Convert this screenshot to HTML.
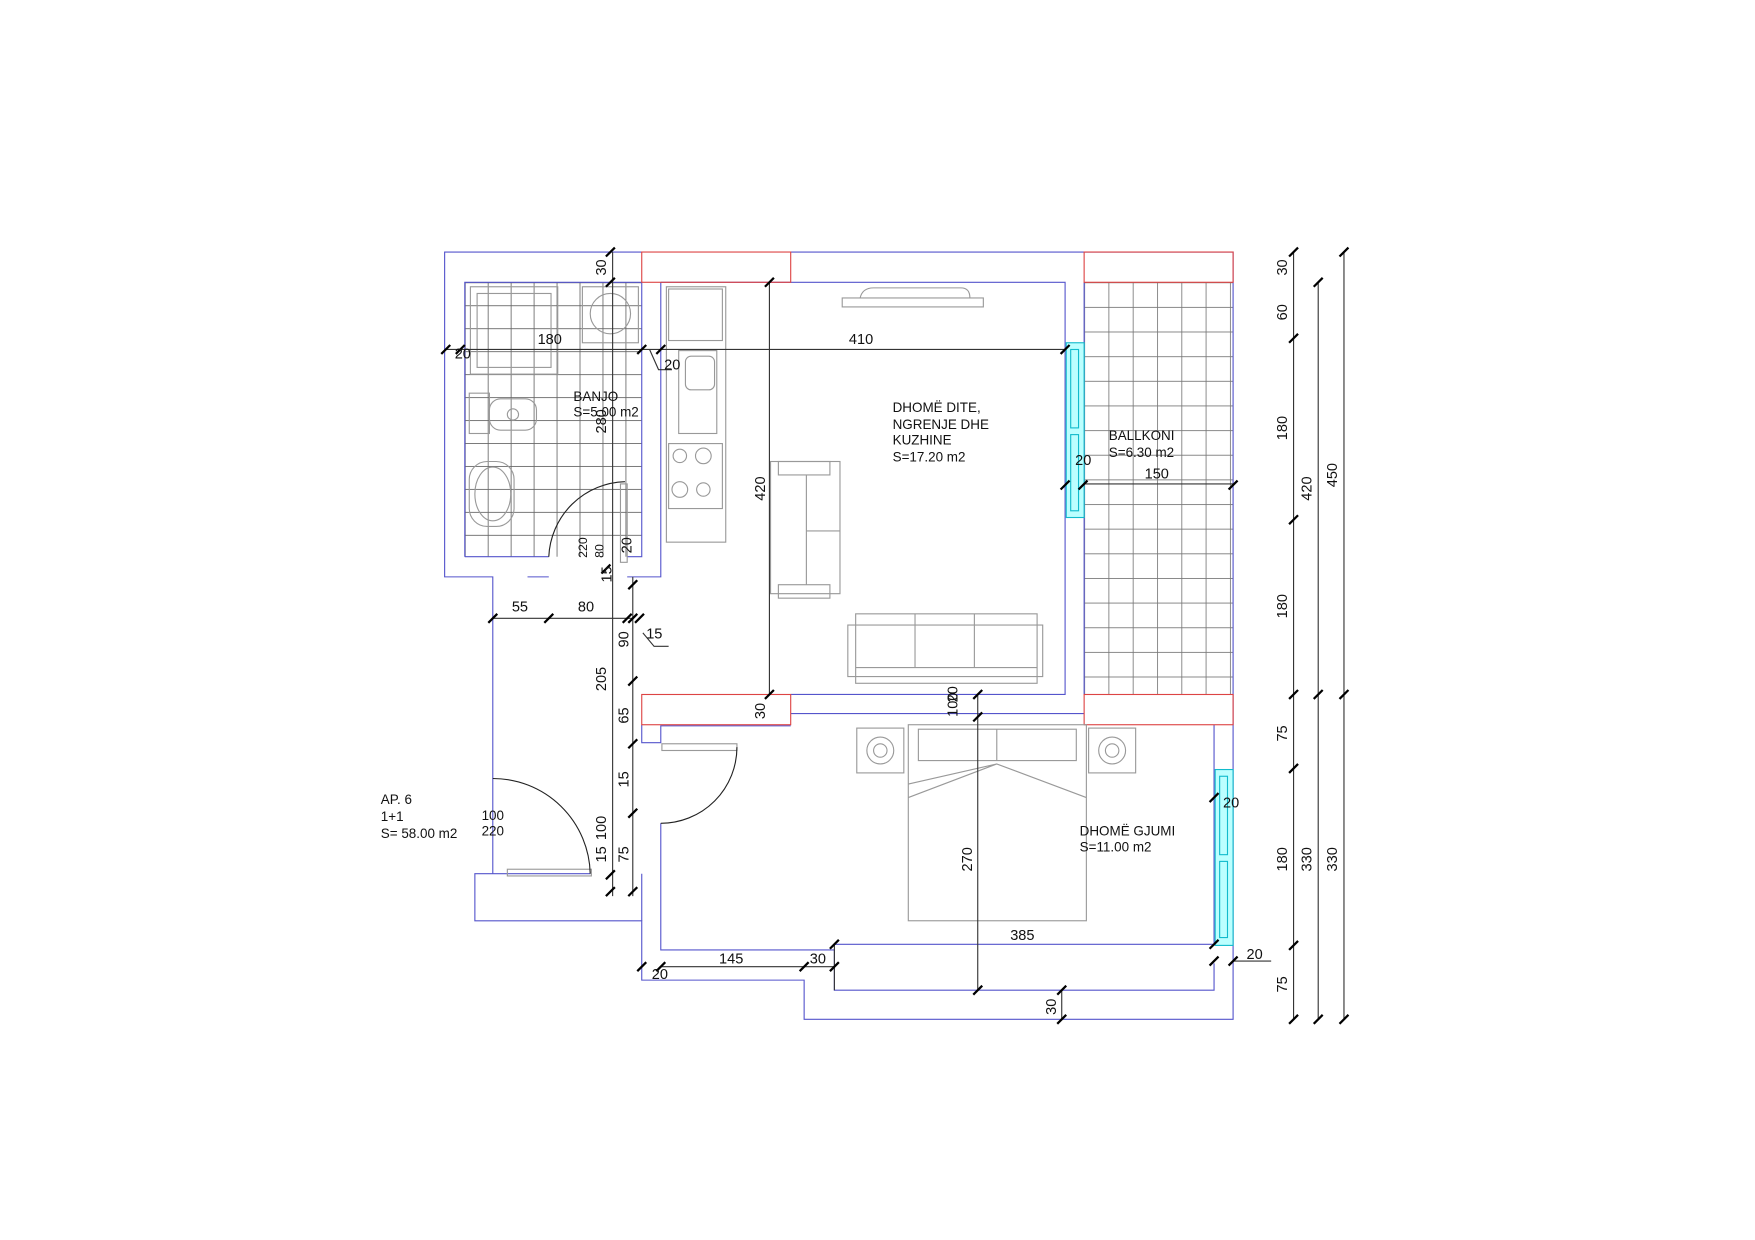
<!DOCTYPE html>
<html><head><meta charset="utf-8"><style>html,body{margin:0;padding:0;background:#fff}svg{display:block}text{font-family:"Liberation Sans",sans-serif;fill:#111}</style></head>
<body>
<svg width="1755" height="1240" viewBox="0 0 1567 1107" preserveAspectRatio="none" xmlns="http://www.w3.org/2000/svg">
<defs>
<pattern id="tb" x="415" y="252" width="20.5" height="20.5" patternUnits="userSpaceOnUse"><path d="M0 0H20.5M0 0V20.5" stroke="#666" stroke-width="1.5" fill="none"/></pattern>
<pattern id="tk" x="968" y="252" width="21.7" height="22" patternUnits="userSpaceOnUse"><path d="M0 0H21.7M0 0V22" stroke="#777" stroke-width="1.5" fill="none"/></pattern>
</defs>
<rect x="415" y="252" width="158" height="245" fill="url(#tb)"/>
<rect x="968" y="252" width="133" height="368" fill="url(#tk)"/>
<g fill="none" stroke="#55c" stroke-width="1">
<path d="M573 225H397V515H440V695M527 780H424V822H573V875H718V910H1101V225H968"/>
<path d="M706 225H968"/>
<path d="M415 497V252H573V497H560M490 497H415"/>
<path d="M590 252V515H560M490 515H471V515"/>
<path d="M590 252H951V620H706"/>
<path d="M968 252V620"/>
<path d="M706 637H968"/>
<path d="M573 647V663H590V648H706M590 735V848H745M745 843H1084V647M745 848V884H1084V860"/>
<path d="M440 695V780M573 780V822"/>
</g>
<g fill="none" stroke="#d44" stroke-width="1">
<rect x="573" y="225" width="133" height="27"/>
<rect x="968" y="225" width="133" height="27"/>
<rect x="968" y="620" width="133" height="27"/>
<rect x="573" y="620" width="133" height="27"/>
</g>
<g fill="#bff" stroke="#1bc" stroke-width="1">
<rect x="952" y="306" width="16" height="156"/><rect x="956" y="312" width="7" height="70"/><rect x="956" y="388" width="7" height="68"/>
<rect x="1085" y="687" width="16" height="157"/><rect x="1089" y="693" width="7" height="70"/><rect x="1089" y="769" width="7" height="68"/>
</g>
<g fill="none" stroke="#999" stroke-width="1">
<rect x="420" y="256" width="78" height="78"/><rect x="426" y="262" width="66" height="66"/>
<rect x="520" y="256" width="50" height="50"/><circle cx="545" cy="280" r="18"/>
<rect x="419" y="351" width="18" height="36"/><rect x="437" y="356" width="42" height="28" rx="10"/><circle cx="458" cy="370" r="5"/>
<rect x="419" y="412" width="40" height="58" rx="16"/><ellipse cx="440" cy="441" rx="16" ry="24"/>
<rect x="595" y="256" width="53" height="228"/><rect x="597" y="258" width="48" height="46"/>
<rect x="606" y="313" width="34" height="74"/><rect x="612" y="318" width="26" height="30" rx="5"/>
<rect x="597" y="396" width="48" height="58"/><circle cx="607" cy="407" r="6"/><circle cx="628" cy="407" r="7"/><circle cx="607" cy="437" r="7"/><circle cx="628" cy="437" r="6"/>
<rect x="752" y="266" width="126" height="8"/><path d="M768 266Q770 257 780 257H858Q866 257 866 266"/>
<rect x="688" y="412" width="62" height="118"/><rect x="695" y="412" width="46" height="12"/><rect x="695" y="522" width="46" height="12"/><path d="M720 424V522M720 474H750"/>
<rect x="757" y="558" width="174" height="46"/><rect x="764" y="548" width="162" height="62"/><path d="M817 548V596M870 548V596M764 596H926"/>
<rect x="765" y="650" width="42" height="40"/><circle cx="786" cy="670" r="12"/><circle cx="786" cy="670" r="6"/>
<rect x="972" y="650" width="42" height="40"/><circle cx="993" cy="670" r="12"/><circle cx="993" cy="670" r="6"/>
<rect x="811" y="647" width="159" height="175"/><rect x="820" y="651" width="141" height="28"/><path d="M890 651V679M811 700L890 682L970 712M811 712L890 682"/>
<rect x="453" y="776" width="75" height="6"/><rect x="591" y="664" width="67" height="6"/><rect x="554" y="432" width="6" height="70"/>
</g>
<g fill="none" stroke="#222" stroke-width="1">
<path d="M440 695A87 87 0 0 1 527 780"/>
<path d="M590 735A68 68 0 0 0 658 667"/>
<path d="M490 497A70 70 0 0 1 558 430"/>
</g>
<g fill="none" stroke="#333" stroke-width="1">
<path d="M397 312H951M969 432H1101M440 552H565M547 225V800M565 515V800M574 565L584 577H597M580 312L588 330H600"/>
<path d="M687 252V620M873 620V884M590 863H745M745 843V884M1101 858H1135M1155 225V910M1177 252V910M1200 225V910M948 884V910"/>
</g>
<g stroke="#000" stroke-width="2">
<path d="M394 316l8-8M407 316l8-8M569 316l8-8M586 316l8-8M947 316l8-8M947 437l8-8M963 437l8-8M1097 437l8-8"/>
<path d="M541 229l8-8M541 256l8-8M436 556l8-8M486 556l8-8M556 556l8-8M567 556l8-8M537 512l8-8M561 526l8-8M561 556l8-8M561 612l8-8M561 668l8-8M561 730l8-8M541 800l8-8M561 800l8-8M541 785l8-8"/>
<path d="M683 256l8-8M683 624l8-8M869 624l8-8M869 644l8-8M869 888l8-8M944 888l8-8M944 914l8-8M569 867l8-8M586 867l8-8M714 867l8-8M741 867l8-8M741 847l8-8M1080 847l8-8M1080 862l8-8M1097 862l8-8M1080 716l8-8"/>
<path d="M1151 229l8-8M1151 306l8-8M1151 468l8-8M1151 624l8-8M1151 690l8-8M1151 848l8-8M1151 914l8-8M1173 256l8-8M1173 624l8-8M1173 914l8-8M1196 229l8-8M1196 624l8-8M1196 914l8-8"/>
</g>
<g font-size="13">
<text x="480" y="307">180</text><text x="406" y="320">20</text><text x="593" y="330">20</text><text x="758" y="307">410</text>
<text x="512" y="358" font-size="12">BANJO</text><text x="512" y="372" font-size="12">S=5.00 m2</text>
<text x="797" y="368" font-size="12">DHOMË DITE,</text><text x="797" y="383" font-size="12">NGRENJE DHE</text><text x="797" y="397" font-size="12">KUZHINE</text><text x="797" y="412" font-size="12">S=17.20 m2</text>
<text x="990" y="393" font-size="12">BALLKONI</text><text x="990" y="408" font-size="12">S=6.30 m2</text>
<text x="960" y="415">20</text><text x="1022" y="427">150</text>
<text x="457" y="546">55</text><text x="516" y="546">80</text><text x="577" y="570">15</text>
<text x="964" y="746" font-size="12">DHOMË GJUMI</text><text x="964" y="760" font-size="12">S=11.00 m2</text>
<text x="1092" y="721">20</text><text x="902" y="839">385</text><text x="642" y="860">145</text><text x="723" y="860">30</text><text x="582" y="874">20</text><text x="1113" y="856">20</text>
<text x="340" y="718" font-size="12">AP. 6</text><text x="340" y="733" font-size="12">1+1</text><text x="340" y="748" font-size="12">S= 58.00 m2</text>
<text x="430" y="732" font-size="12">100</text><text x="430" y="746" font-size="12">220</text>
<g>
<text transform="translate(541,246) rotate(-90)">30</text>
<text transform="translate(541,387) rotate(-90)">280</text>
<text transform="translate(683,447) rotate(-90)">420</text>
<text transform="translate(564,494) rotate(-90)">20</text>
<text transform="translate(524,498) rotate(-90)" font-size="11">220</text>
<text transform="translate(539,498) rotate(-90)" font-size="11">80</text>
<text transform="translate(546,520) rotate(-90)">15</text>
<text transform="translate(561,578) rotate(-90)">90</text>
<text transform="translate(541,617) rotate(-90)">205</text>
<text transform="translate(561,646) rotate(-90)">65</text>
<text transform="translate(561,703) rotate(-90)">15</text>
<text transform="translate(541,750) rotate(-90)">100</text>
<text transform="translate(541,770) rotate(-90)">15</text>
<text transform="translate(561,770) rotate(-90)">75</text>
<text transform="translate(683,642) rotate(-90)">30</text>
<text transform="translate(855,640) rotate(-90)">100</text>
<text transform="translate(855,627) rotate(-90)">20</text>
<text transform="translate(868,778) rotate(-90)">270</text>
<text transform="translate(943,906) rotate(-90)">30</text>
<text transform="translate(1149,246) rotate(-90)">30</text>
<text transform="translate(1149,286) rotate(-90)">60</text>
<text transform="translate(1149,393) rotate(-90)">180</text>
<text transform="translate(1149,552) rotate(-90)">180</text>
<text transform="translate(1149,662) rotate(-90)">75</text>
<text transform="translate(1149,778) rotate(-90)">180</text>
<text transform="translate(1149,886) rotate(-90)">75</text>
<text transform="translate(1171,447) rotate(-90)">420</text>
<text transform="translate(1171,778) rotate(-90)">330</text>
<text transform="translate(1194,435) rotate(-90)">450</text>
<text transform="translate(1194,778) rotate(-90)">330</text>
</g>
</g>
</svg>
</body></html>
